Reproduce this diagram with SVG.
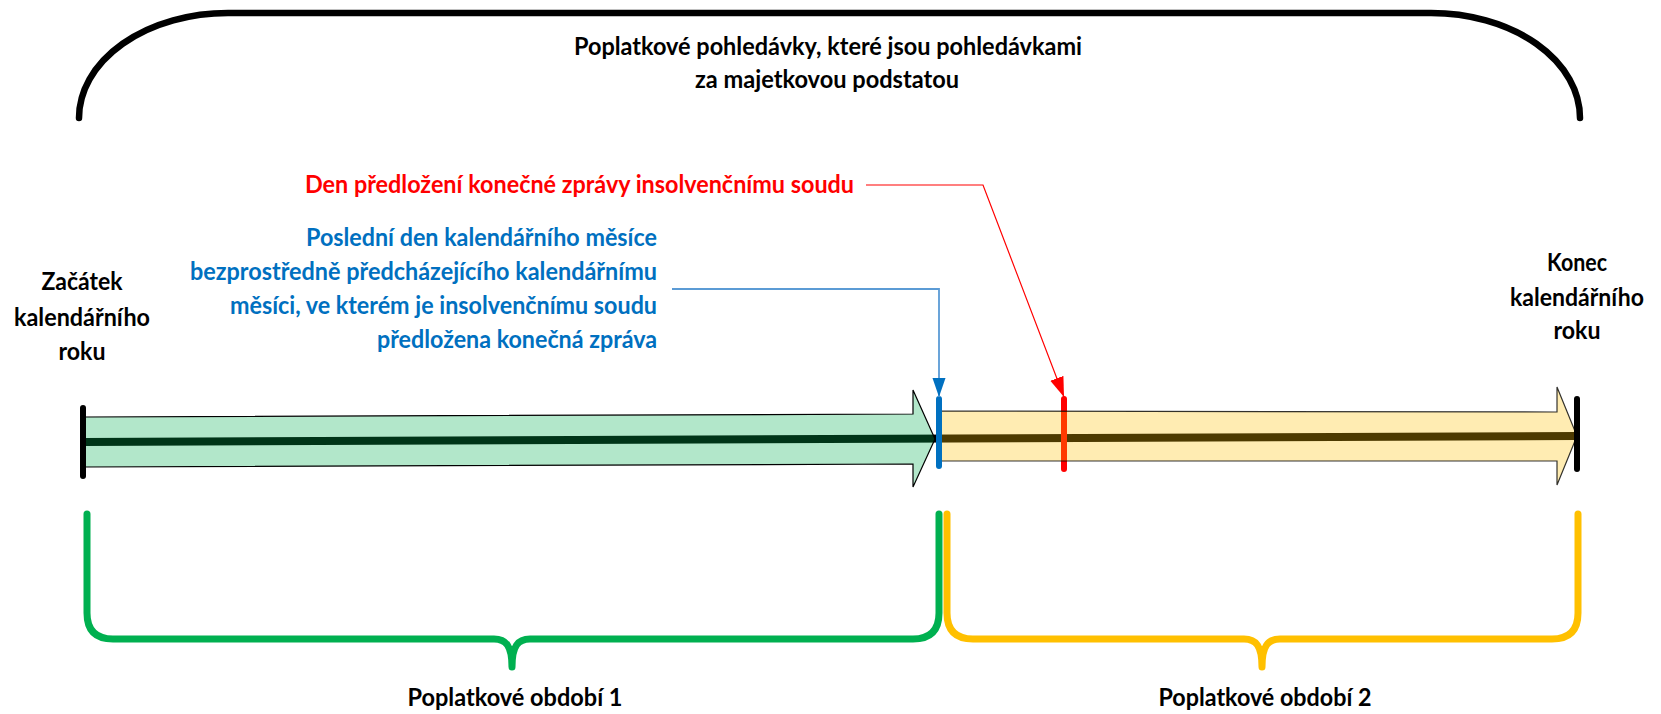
<svg xmlns="http://www.w3.org/2000/svg" width="1661" height="714" viewBox="0 0 1661 714">
<style>
text{font-family:"Lato","Liberation Sans",sans-serif;font-weight:bold;font-size:24px}
.k{fill:#000}
.r{fill:#FF0000}
.b{fill:#0070C0}
.m{text-anchor:middle}
.e{text-anchor:end}
.brace{fill:none;stroke-width:7;stroke-linecap:round;stroke-linejoin:round}
.tick{stroke-width:6;stroke-linecap:round}
</style>
<defs>
<marker id="ahRed" markerUnits="userSpaceOnUse" markerWidth="22" markerHeight="16" refX="20" refY="7" orient="auto">
<path d="M0,0 L20,7 L0,14 z" fill="#FF0000"/>
</marker>
<marker id="ahBlue" markerUnits="userSpaceOnUse" markerWidth="22" markerHeight="16" refX="19" refY="6.5" orient="auto">
<path d="M0,0 L19,6.5 L0,13 z" fill="#0070C0"/>
</marker>
</defs>
<rect width="1661" height="714" fill="#fff"/>

<g id="top-bracket">
<path d="M79,118 A149,105 0 0 1 228,13 H1431 A149,105 0 0 1 1580,118" fill="none" stroke="#000" stroke-width="6.5" stroke-linecap="round"/>
</g>
<g id="title">
<text class="k m" x="828" y="55" textLength="508" lengthAdjust="spacingAndGlyphs">Poplatkové pohledávky, které jsou pohledávkami</text>
<text class="k m" x="827" y="88" textLength="264" lengthAdjust="spacingAndGlyphs">za majetkovou podstatou</text>
</g>

<g id="timeline">
<line x1="83" y1="442" x2="1577" y2="436" stroke="#000" stroke-width="8"/>
<line class="tick" x1="1064" y1="399" x2="1064" y2="469" stroke="#FF0000"/>
</g>
<g id="period1-arrow">
<path d="M83,417 L913,414 L913,390 L935,439 L913,487 L913,464 L83,467 Z" fill="#00B050" fill-opacity="0.3" stroke="#000" stroke-width="1.2" stroke-linejoin="miter"/>
</g>
<g id="period2-arrow">
<path d="M939,411 L1557,412 L1557,387 L1577,436 L1557,485 L1557,461 L939,461 Z" fill="#FFC000" fill-opacity="0.3" stroke="#000" stroke-opacity="0.8" stroke-width="1.2"/>
</g>
<g id="start-tick"><line class="tick" x1="83" y1="408" x2="83" y2="476" stroke="#000"/></g>
<g id="end-tick"><line class="tick" x1="1577" y1="399" x2="1577" y2="469" stroke="#000"/></g>
<g id="month-end-tick"><line class="tick" x1="939" y1="399" x2="939" y2="466" stroke="#0070C0"/></g>

<g id="start-label">
<text class="k m" x="82" y="290" textLength="81" lengthAdjust="spacingAndGlyphs">Začátek</text>
<text class="k m" x="82" y="326" textLength="136" lengthAdjust="spacingAndGlyphs">kalendářního</text>
<text class="k m" x="82" y="360" textLength="47" lengthAdjust="spacingAndGlyphs">roku</text>
</g>
<g id="end-label">
<text class="k m" x="1577" y="271" textLength="60" lengthAdjust="spacingAndGlyphs">Konec</text>
<text class="k m" x="1577" y="306" textLength="134" lengthAdjust="spacingAndGlyphs">kalendářního</text>
<text class="k m" x="1577" y="339" textLength="47" lengthAdjust="spacingAndGlyphs">roku</text>
</g>

<g id="report-day-label">
<text class="r" x="305" y="193" textLength="549" lengthAdjust="spacingAndGlyphs">Den předložení konečné zprávy insolvenčnímu soudu</text>
</g>
<g id="month-end-label">
<text class="b e" x="657" y="246" textLength="351" lengthAdjust="spacingAndGlyphs">Poslední den kalendářního měsíce</text>
<text class="b e" x="657" y="280" textLength="467" lengthAdjust="spacingAndGlyphs">bezprostředně předcházejícího kalendářnímu</text>
<text class="b e" x="657" y="314" textLength="427" lengthAdjust="spacingAndGlyphs">měsíci, ve kterém je insolvenčnímu soudu</text>
<text class="b e" x="657" y="348" textLength="280" lengthAdjust="spacingAndGlyphs">předložena konečná zpráva</text>
</g>

<g id="connectors">
<path d="M866,185 H983 L1064,397" fill="none" stroke="#FF0000" stroke-width="1.2" marker-end="url(#ahRed)"/>
<path d="M672,289 H939 V397" fill="none" stroke="#5B9BD5" stroke-width="1.8" marker-end="url(#ahBlue)"/>
</g>

<g id="period1-brace">
<path class="brace" stroke="#00B050" d="M87,514 V613 Q87,639 113,639 H494 C506,639 512,646 512,667 C512,646 518,639 530,639 H913 Q939,639 939,613 V514"/>
<text class="k m" x="515" y="706" textLength="215" lengthAdjust="spacingAndGlyphs">Poplatkové období 1</text>
</g>
<g id="period2-brace">
<path class="brace" stroke="#FFC000" d="M947,514 V613 Q947,639 973,639 H1244 C1256,639 1262,646 1262,667 C1262,646 1268,639 1280,639 H1552 Q1578,639 1578,613 V514"/>
<text class="k m" x="1265" y="706" textLength="213" lengthAdjust="spacingAndGlyphs">Poplatkové období 2</text>
</g>
</svg>
